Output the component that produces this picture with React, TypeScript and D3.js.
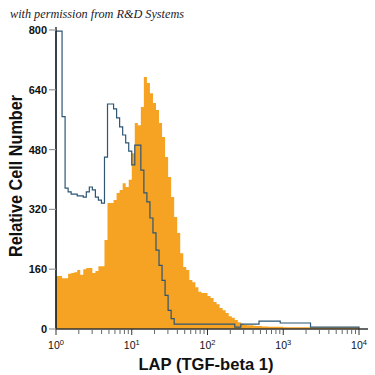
import React from "react";
import * as d3 from "d3";

// channel grid: 100 channels of 0.04 decade over 10^0..10^4
const channelCount = 100;
const decadesPerChannel = 0.04;

const lapCounts = [
  142, 142, 136, 136, 148, 150, 152, 158, 145, 160,
  163, 163, 150, 155, 168, 168, 238, 337, 337, 345,
  364, 372, 390, 380, 399, 470, 551, 545, 594, 674,
  658, 631, 605, 586, 551, 514, 460, 407, 353, 300,
  257, 203, 166, 158, 131, 125, 112, 100, 96, 96,
  88, 83, 72, 66, 56, 50, 43, 34, 30, 24,
  18, 14, 11, 10, 10, 9, 8, 8, 7, 7,
  6, 6, 6, 6, 6, 5, 5, 5, 5, 5,
  5, 5, 5, 5, 5, 5, 5, 5, 5, 5,
  5, 5, 5, 5, 5, 5, 5, 5, 5, 5,
];

const isotypeCounts = [
  797, 797, 568, 377, 367, 361, 361, 356, 356, 353,
  367, 380, 372, 353, 345, 337, 460, 602, 602, 589,
  565, 541, 519, 498, 476, 439, 492, 492, 425, 364,
  340, 297, 257, 211, 170, 130, 90, 50, 28, 13,
  13, 13, 13, 13, 13, 13, 13, 13, 13, 13,
  13, 13, 13, 13, 13, 13, 13, 13, 13, 5,
  5, 13, 13, 13, 13, 13, 13, 21, 21, 21,
  21, 21, 21, 21, 16, 16, 16, 16, 16, 16,
  16, 16, 16, 16, 5, 5, 5, 5, 5, 5,
  5, 5, 5, 5, 5, 5, 5, 5, 5, 5,
];

const yTicks = [0, 160, 320, 480, 640, 800];
const xDecades = [0, 1, 2, 3, 4];

const W = 375;
const H = 375;
const left = 56;
const right = 359;
const top = 30;
const bottom = 329;

export default function App() {
  const x = d3.scaleLog().domain([1, 10000]).range([left, right]);
  const y = d3.scaleLinear().domain([0, 800]).range([bottom, top]);

  const edge = (i: number) => Math.pow(10, i * decadesPerChannel);

  const stepPoints = (counts: number[]) => {
    const pts: [number, number][] = [[edge(0), 0]];
    for (let i = 0; i < channelCount; i++) {
      pts.push([edge(i), counts[i]]);
      pts.push([edge(i + 1), counts[i]]);
    }
    pts.push([edge(channelCount), 0]);
    return pts;
  };

  const line = d3
    .line<[number, number]>()
    .x((d) => x(d[0]))
    .y((d) => y(d[1]));

  const area = d3
    .area<[number, number]>()
    .x((d) => x(d[0]))
    .y0(y(0))
    .y1((d) => y(d[1]));

  const lapPts = stepPoints(lapCounts);
  const isoPts = stepPoints(isotypeCounts);

  const minorTicks: number[] = [];
  for (let dd = 0; dd < 4; dd++) {
    for (let m = 2; m <= 9; m++) minorTicks.push(m * Math.pow(10, dd));
  }

  const font = "'Liberation Sans', Arial, sans-serif";

  return (
    <svg
      width={W}
      height={H}
      style={{ position: "absolute", left: 0, top: 0, background: "#fff" }}
    >
      <text
        x={10}
        y={18}
        fontFamily="'Liberation Serif', 'DejaVu Serif', serif"
        fontStyle="italic"
        fontSize={12.5}
        textLength={174}
        lengthAdjust="spacingAndGlyphs"
        fill="#1a1a2a"
      >
        with permission from R&amp;D Systems
      </text>

      <path d={area(lapPts) || ""} fill="#f6a222" stroke="none" />
      <path
        d={line(isoPts) || ""}
        fill="none"
        stroke="#2d5675"
        strokeWidth={1.2}
      />

      {/* y axis */}
      <line x1={left} x2={left} y1={27} y2={bottom} stroke="#111" strokeWidth={1.3} />
      {yTicks.map((t) => (
        <g key={t}>
          <line x1={left - 7} x2={left} y1={y(t)} y2={y(t)} stroke="#999" strokeWidth={1.2} />
          <text
            x={left - 9}
            y={y(t) + 4}
            textAnchor="end"
            fontFamily={font}
            fontWeight="bold"
            fontSize={11}
            fill="#111"
          >
            {t}
          </text>
        </g>
      ))}

      {/* x axis */}
      <line x1={left} x2={368} y1={bottom} y2={bottom} stroke="#333" strokeWidth={1.3} />
      {minorTicks.map((t) => (
        <line key={"m" + t} x1={x(t)} x2={x(t)} y1={bottom} y2={bottom + 5} stroke="#666" strokeWidth={1} />
      ))}
      {xDecades.map((dd) => (
        <g key={dd}>
          <line
            x1={x(Math.pow(10, dd))}
            x2={x(Math.pow(10, dd))}
            y1={bottom}
            y2={bottom + 6}
            stroke="#333"
            strokeWidth={1}
          />
          <text
            x={x(Math.pow(10, dd))}
            y={349}
            textAnchor="middle"
            fontFamily={font}
            fontSize={10.5}
            fill="#111"
          >
            10
            <tspan dy={-4} fontSize={7.5}>
              {dd}
            </tspan>
          </text>
        </g>
      ))}

      <text
        x={206}
        y={370}
        textAnchor="middle"
        fontFamily={font}
        fontWeight="bold"
        fontSize={17}
        textLength={135}
        lengthAdjust="spacingAndGlyphs"
        fill="#111"
      >
        LAP (TGF-beta 1)
      </text>
      <text
        transform={`translate(22, 176) rotate(-90)`}
        textAnchor="middle"
        fontFamily={font}
        fontWeight="bold"
        fontSize={18}
        textLength={162}
        lengthAdjust="spacingAndGlyphs"
        fill="#111"
      >
        Relative Cell Number
      </text>
    </svg>
  );
}
